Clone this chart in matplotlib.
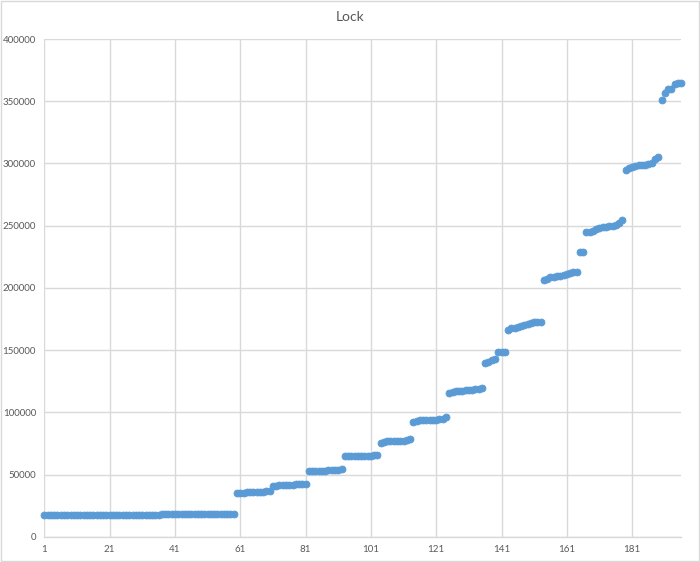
import matplotlib
matplotlib.use('Agg')
import matplotlib.pyplot as plt
from matplotlib.patches import Rectangle

# sample index 1..196
lock_values = (
    [17900] * 36
    + [18800] * 23
    + [35200, 35500, 35700, 35900, 36000, 36100, 36200, 36300, 36400, 36600, 37300]
    + [40800, 41300, 41600, 41800, 41900, 42000, 42100, 42200, 42300, 42300, 42400]
    + [52800, 53000, 53100, 53200, 53300, 53400, 53500, 53500, 53600, 53800, 54500]
    + [65000, 65100, 65200, 65200, 65300, 65300, 65300, 65400, 65400, 65600, 66000]
    + [75800, 76500, 76800, 77000, 77100, 77200, 77300, 77400, 77600, 78400]
    + [92600, 93300, 93600, 93800, 93900, 94000, 94100, 94300, 94500, 95000, 96000]
    + [115500, 116500, 117000, 117300, 117600, 117800, 118000, 118200, 118500, 119000, 120000]
    + [139800, 140800, 141800, 143000]
    + [148200, 148300, 148400]
    + [166000, 167500, 168000, 168800, 169500, 170000, 170800, 171500, 172300, 172800, 173000]
    + [206300, 207500, 208500, 209000, 209500, 210000, 210800, 211500, 212300, 212800, 213000]
    + [228700, 228800]
    + [244700, 245200, 246000, 247000, 248500, 249000, 249300, 249500, 249800, 250500, 252500, 254500]
    + [294800, 296500, 297500, 298000, 298500, 298800, 299000, 299300, 300000, 304000, 305500]
    + [351000, 357000, 360000, 360000, 364000, 365000, 365000]
)
sample_idx = list(range(1, len(lock_values) + 1))

x_ticks = [1, 21, 41, 61, 81, 101, 121, 141, 161, 181]
y_ticks = list(range(0, 400001, 50000))

GRID = '#D9D9D9'
TEXT = '#595959'
BLUE = '#5B9BD5'

plt.rcParams['font.family'] = ['Lato', 'DejaVu Sans']

fig = plt.figure(figsize=(7.0, 5.62), dpi=100)
ax = fig.add_axes([0.0634, 0.0445, 0.9096, 0.8861])

ax.plot(sample_idx, lock_values, linestyle='none', marker='o', markersize=5,
        markerfacecolor=BLUE, markeredgecolor=BLUE, markeredgewidth=0.6,
        clip_on=False, zorder=3)

ax.set_xlim(1, len(lock_values))
ax.set_ylim(0, 400000)
ax.set_xticks(x_ticks)
ax.set_yticks(y_ticks)
ax.set_yticklabels([str(v) for v in y_ticks])

ax.grid(True, color=GRID, linewidth=1.0)
ax.set_axisbelow(True)
for side in ['top', 'right', 'left']:
    ax.spines[side].set_visible(False)
ax.spines['bottom'].set_color(GRID)
ax.spines['bottom'].set_linewidth(1.0)
ax.tick_params(axis='both', length=0, labelsize=7, labelcolor=TEXT)
ax.tick_params(axis='x', pad=6)
ax.tick_params(axis='y', pad=6)

fig.text(0.5, 0.969, 'Lock', ha='center', va='center', fontsize=10, color=TEXT)

# chart area border
fig.patches.append(Rectangle((0.001, 0.001), 0.998, 0.998, transform=fig.transFigure,
                             fill=False, edgecolor=GRID, linewidth=1.0))

fig.savefig('out.png', dpi=100)
